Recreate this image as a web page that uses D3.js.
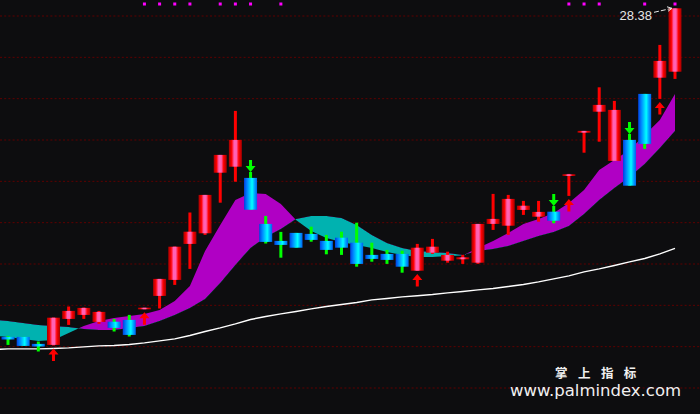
<!DOCTYPE html>
<html><head><meta charset="utf-8">
<script src="https://cdn.jsdelivr.net/npm/d3@7"></script>
<style>html,body{margin:0;padding:0;background:#0d0d0f;overflow:hidden}</style>
</head><body><svg id="c" width="700" height="414"></svg>
<script>
// ---- data (price units) ----
const opens  = [11.95,11.95,11.60,11.55,12.85,13.05,12.70,12.71,12.80,13.33,14.00,14.80,16.60,17.13,20.16,20.46,19.90,17.60,16.75,17.15,17.10,16.75,16.91,16.66,16.05,16.10,16.10,15.26,16.16,15.76,15.83,15.66,17.60,17.51,18.30,17.96,18.21,20.03,22.16,23.21,20.75,21.80,24.10,24.91,25.21];
const highs  = [12.00,11.95,11.72,12.92,13.47,13.42,13.25,12.85,13.05,13.41,14.85,16.47,18.17,19.05,21.05,23.25,20.20,18.00,17.20,17.15,17.46,17.05,17.21,17.66,16.66,16.30,16.26,16.60,16.85,16.21,16.05,17.60,19.10,19.05,18.75,18.75,18.50,20.10,22.25,24.43,23.75,22.10,24.10,26.55,28.38];
const lows   = [11.55,11.50,11.22,11.52,12.55,12.85,12.60,12.22,11.97,13.33,13.37,14.55,15.35,17.05,18.66,19.71,18.31,16.62,15.91,16.41,16.71,16.08,16.05,15.46,15.71,15.60,15.16,15.25,16.10,15.66,15.60,15.60,17.30,17.05,18.05,17.71,17.63,19.00,21.16,21.71,20.75,19.51,21.35,23.85,24.85];
const closes = [11.82,11.50,11.47,12.91,13.25,13.40,13.20,12.40,12.05,13.41,14.85,16.46,17.21,19.05,21.05,21.80,18.31,16.70,16.55,16.41,16.80,16.30,16.41,15.60,15.85,15.80,15.46,16.41,16.46,16.05,15.93,17.60,17.85,18.85,18.51,18.20,17.76,20.08,22.25,23.55,23.30,19.51,21.60,25.75,28.38];
// band lines and long average, starting one day before the first visible candle
const fastLine = [12.00,11.95,11.85,11.75,11.80,12.15,12.50,12.75,12.90,13.00,13.10,13.30,13.75,14.50,16.25,17.55,18.80,19.15,19.10,18.60,17.80,17.25,16.90,16.70,16.55,16.40,16.20,16.05,15.95,15.95,16.00,16.02,16.40,16.75,17.15,17.60,17.85,18.15,18.65,19.30,20.30,20.80,21.30,22.05,22.80,24.10];
const slowLine = [12.80,12.75,12.65,12.55,12.50,12.45,12.35,12.30,12.30,12.40,12.50,12.75,13.05,13.40,13.85,14.65,15.55,16.40,16.95,17.35,17.85,18.00,18.00,17.90,17.55,17.05,16.65,16.40,16.25,16.20,16.15,16.05,16.25,16.35,16.50,16.75,17.00,17.20,17.50,18.10,18.80,19.40,19.95,20.60,21.40,22.25];
const longMA   = [11.32,11.35,11.35,11.35,11.37,11.40,11.45,11.50,11.52,11.57,11.65,11.75,11.85,12.02,12.22,12.40,12.60,12.82,12.97,13.10,13.22,13.35,13.47,13.57,13.67,13.80,13.87,13.95,14.01,14.07,14.15,14.22,14.30,14.37,14.47,14.57,14.70,14.85,15.00,15.20,15.35,15.52,15.70,15.87,16.10,16.38];
const buyIdx  = [3,9,27,37,43];
const sellIdx = [16,36,41];
const dotIdx  = [9,10,11,12,14,15,16,18,37,38,39,42,44];
const brandCn = "掌 上 指 标";
const brandUrl = "www.palmindex.com";

// ---- setup ----
const W = 700, H = 414;
const svg = d3.select("#c");
svg.append("rect").attr("width", W).attr("height", H).attr("fill", "#0d0d0f");
const x = d3.scaleLinear().domain([0, 44]).range([8, 675]);
const y = d3.scaleLinear().domain([8.095, 28.795]).range([414, 0]);
const bodyW = 13;

const defs = svg.append("defs");
function grad(id, stops) {
  const g = defs.append("linearGradient").attr("id", id).attr("x1", 0).attr("x2", 1).attr("y1", 0).attr("y2", 0);
  stops.forEach(s => g.append("stop").attr("offset", s[0]).attr("stop-color", s[1]));
}
grad("gUp", [[0, "#a00000"], [0.22, "#ff0000"], [0.40, "#ff62b4"], [0.58, "#ff62b4"], [0.76, "#ff0000"], [1, "#a00000"]]);
grad("gDn", [[0, "#0040e0"], [0.25, "#0088ff"], [0.50, "#00d8ff"], [0.62, "#00ffff"], [0.80, "#00a8ff"], [1, "#0060f0"]]);

// grid
const gridYs = d3.range(10).map(k => 16 + k * 372 / 9);
svg.append("g").selectAll("line").data(gridYs).join("line")
  .attr("x1", 0).attr("x2", W).attr("y1", d => d).attr("y2", d => d)
  .attr("stroke", "#5e0000").attr("stroke-width", 1).attr("stroke-dasharray", "2,2.2");

// band between fast and slow line
const bandData = fastLine.map((f, k) => ({ i: k - 1, f, s: slowLine[k], m: longMA[k] }));
defs.append("clipPath").attr("id", "above").append("path")
  .attr("d", d3.area().x(d => x(d.i)).y0(0).y1(d => y(d.s))(bandData));
defs.append("clipPath").attr("id", "below").append("path")
  .attr("d", d3.area().x(d => x(d.i)).y0(H).y1(d => y(d.s))(bandData));
const band = d3.area().x(d => x(d.i)).y0(d => y(d.f)).y1(d => y(d.s));
svg.append("path").attr("d", band(bandData)).attr("fill", "#b000c4").attr("clip-path", "url(#above)");
svg.append("path").attr("d", band(bandData)).attr("fill", "#00b2b0").attr("clip-path", "url(#below)");

// long average line
svg.append("path").attr("d", d3.line().x(d => x(d.i)).y(d => y(d.m))(bandData))
  .attr("fill", "none").attr("stroke", "#ffffff").attr("stroke-width", 1.4);

// candles
const candles = opens.map((o, i) => ({ i, o, h: highs[i], l: lows[i], c: closes[i], up: closes[i] >= o }));
const cg = svg.append("g");
cg.selectAll("rect.wick").data(candles).join("rect").attr("class", "wick")
  .attr("x", d => x(d.i) - 1.5).attr("width", 3)
  .attr("y", d => y(d.h)).attr("height", d => Math.max(0, y(d.l) - y(d.h)))
  .attr("fill", d => d.up ? "#ff0000" : "#00ff00");
cg.selectAll("rect.body").data(candles).join("rect").attr("class", "body")
  .attr("x", d => x(d.i) - bodyW / 2).attr("width", bodyW)
  .attr("y", d => y(Math.max(d.o, d.c)))
  .attr("height", d => Math.max(1.6, Math.abs(y(d.o) - y(d.c))))
  .attr("fill", d => d.up ? "url(#gUp)" : "url(#gDn)");

// signal arrows
svg.append("g").selectAll("path").data(buyIdx).join("path")
  .attr("d", i => { const cx = x(i), t = y(lows[i]) + 3;
    return `M${cx},${t}L${cx + 5},${t + 6}L${cx + 1.5},${t + 6}L${cx + 1.5},${t + 12.5}L${cx - 1.5},${t + 12.5}L${cx - 1.5},${t + 6}L${cx - 5},${t + 6}Z`; })
  .attr("fill", "#ff0000");
svg.append("g").selectAll("path").data(sellIdx).join("path")
  .attr("d", i => { const cx = x(i), b = y(highs[i]);
    return `M${cx},${b}L${cx - 5},${b - 6}L${cx - 1.5},${b - 6}L${cx - 1.5},${b - 12}L${cx + 1.5},${b - 12}L${cx + 1.5},${b - 6}L${cx + 5},${b - 6}Z`; })
  .attr("fill", "#00ff00");

// top dots
svg.append("g").selectAll("rect").data(dotIdx).join("rect")
  .attr("x", i => x(i) - 1.5).attr("y", 2.5).attr("width", 3).attr("height", 3).attr("fill", "#ff00ff");

// high label
const mi = d3.maxIndex(highs);
const tipX = x(mi) - 3, tipY = y(highs[mi]);
svg.append("text").attr("x", tipX - 20).attr("y", tipY + 11.5).attr("text-anchor", "end")
  .attr("font-family", "Liberation Sans, Arial, sans-serif").attr("font-size", 13)
  .attr("fill", "#e6e6e6").text(highs[mi].toFixed(2));
svg.append("path").attr("d", `M${tipX - 18},${tipY + 4}L${tipX},${tipY}`)
  .attr("stroke", "#e6e6e6").attr("stroke-width", 1).attr("stroke-dasharray", "5,2").attr("fill", "none");
svg.append("path").attr("d", `M${tipX - 5},${tipY - 1.5}L${tipX},${tipY}L${tipX - 4},${tipY + 3}`)
  .attr("stroke", "#e6e6e6").attr("stroke-width", 1).attr("fill", "none");

// watermark
svg.append("text").attr("x", 555).attr("y", 378)
  .attr("font-family", "Noto Sans CJK SC, sans-serif").attr("font-size", 12.5).attr("font-weight", "bold")
  .attr("letter-spacing", 3.8).attr("fill", "#f0f0f0").text(brandCn);
svg.append("text").attr("x", 510).attr("y", 396)
  .attr("font-family", "DejaVu Sans, sans-serif").attr("font-size", 16.5)
  .attr("fill", "#f0f0f0").text(brandUrl);
</script></body></html>
